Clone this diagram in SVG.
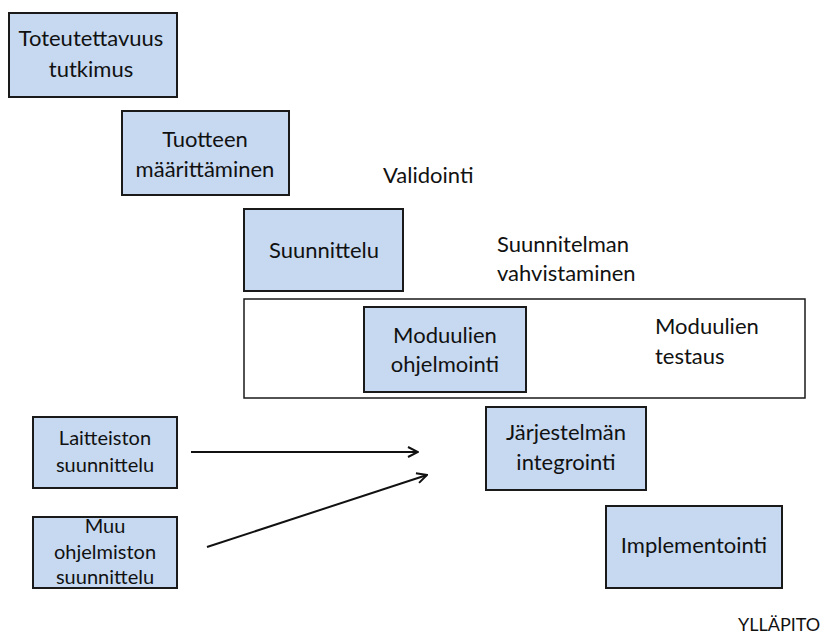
<svg xmlns="http://www.w3.org/2000/svg" width="824" height="639" viewBox="0 0 824 639">
  <style>
    .box { fill: #c6d9f1; stroke: #1a1a1a; stroke-width: 2; }
    .frame { fill: none; stroke: #1a1a1a; stroke-width: 1.5; }
    text { font-family: Lato, "Open Sans", "Liberation Sans", sans-serif; fill: #111; }
    .t { font-size: 22px; text-anchor: middle; }
    .s { font-size: 20px; text-anchor: middle; }
    .l { font-size: 22px; }
    .conn { stroke: #111; stroke-width: 2; fill: none; marker-end: url(#arrow); }
  </style>
  <defs>
    <marker id="arrow" viewBox="0 0 12 12" refX="11" refY="6" markerWidth="12" markerHeight="12" markerUnits="userSpaceOnUse" orient="auto">
      <path d="M1,1 L11,6 L1,11" fill="none" stroke="#111" stroke-width="2"/>
    </marker>
  </defs>

  <rect fill="#ffffff" x="0" y="0" width="824" height="639"/>

  <!-- frame around the module phase -->
  <rect class="frame" x="244" y="299" width="561" height="99"/>

  <g id="toteutettavuus">
    <rect class="box" x="9" y="13" width="168" height="84"/>
    <text class="t" x="91" y="46">Toteutettavuus</text>
    <text class="t" x="91" y="77">tutkimus</text>
  </g>

  <g id="tuotteen">
    <rect class="box" x="122" y="111" width="167" height="84"/>
    <text class="t" x="205" y="147">Tuotteen</text>
    <text class="t" x="205" y="177">määrittäminen</text>
  </g>

  <g id="validointi">
    <text class="l" x="383" y="183">Validointi</text>
  </g>

  <g id="suunnittelu">
    <rect class="box" x="244" y="209" width="159" height="82"/>
    <text class="t" x="324" y="258">Suunnittelu</text>
  </g>

  <g id="vahvistaminen">
    <text class="l" x="497" y="252">Suunnitelman</text>
    <text class="l" x="497" y="281">vahvistaminen</text>
  </g>

  <g id="ohjelmointi">
    <rect class="box" x="364" y="307" width="162" height="85"/>
    <text class="t" x="445" y="343">Moduulien</text>
    <text class="t" x="445" y="372">ohjelmointi</text>
  </g>

  <g id="testaus">
    <text class="l" x="655" y="334">Moduulien</text>
    <text class="l" x="655" y="364">testaus</text>
  </g>

  <g id="laitteisto">
    <rect class="box" x="33" y="417" width="144" height="71"/>
    <text class="s" x="105" y="445">Laitteiston</text>
    <text class="s" x="105" y="472">suunnittelu</text>
  </g>

  <g id="ohjelmisto">
    <rect class="box" x="33" y="517" width="144" height="71"/>
    <text class="s" x="105" y="533">Muu</text>
    <text class="s" x="105" y="559">ohjelmiston</text>
    <text class="s" x="105" y="584">suunnittelu</text>
  </g>

  <g id="integrointi">
    <rect class="box" x="486" y="407" width="160" height="83"/>
    <text class="t" x="566" y="440">Järjestelmän</text>
    <text class="t" x="566" y="470">integrointi</text>
  </g>

  <g id="implementointi">
    <rect class="box" x="606" y="506" width="176" height="82"/>
    <text class="t" x="694" y="553">Implementointi</text>
  </g>

  <g id="yllapito">
    <text x="738" y="631" font-size="18">YLLÄPITO</text>
  </g>

  <g id="connectors">
    <line class="conn" x1="191" y1="452" x2="418" y2="452"/>
    <line class="conn" x1="207" y1="547" x2="427" y2="475"/>
  </g>
</svg>
